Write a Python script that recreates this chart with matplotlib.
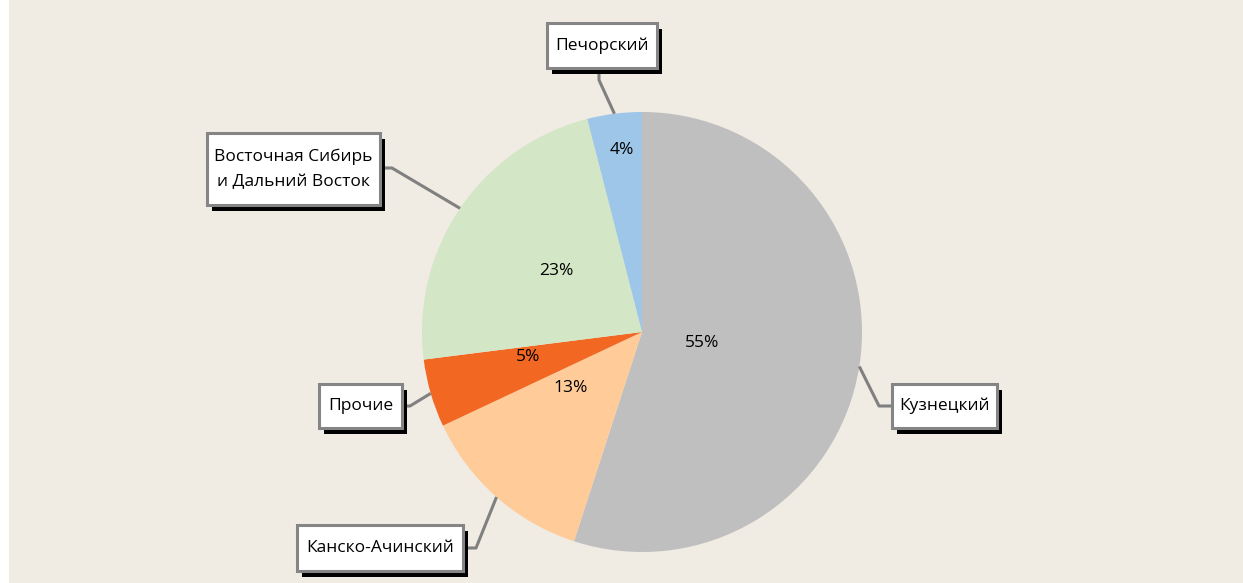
import matplotlib
matplotlib.use("Agg")
import matplotlib.pyplot as plt
from matplotlib.patches import Rectangle
import numpy as np

# ---- data ----
categories = ["Кузнецкий", "Канско-Ачинский", "Прочие",
              "Восточная Сибирь\nи Дальний Восток", "Печорский"]
shares = [55, 13, 5, 23, 4]
pct_labels = ["55%", "13%", "5%", "23%", "4%"]
colors = ["#BFBFBF", "#FFCC99", "#F26722", "#D3E6C6", "#9DC6E9"]

# ---- layout (pixel coordinates, y from top) ----
W, H = 1243, 583
CX, CY, R = 642, 332, 220
# label boxes: (left, top, width, height)
boxes = [(892, 384, 105, 44), (297, 525, 166, 46), (319, 384, 83, 44),
         (207, 133, 173, 72), (547, 23, 110, 45)]
# leader line start points (on box edge) and elbow points
line_start = [(892, 406), (463, 548), (402, 406), (380, 168), (599, 68)]
line_elbow = [(879, 406), (476, 548), (410, 406), (392, 168), (599, 80)]
pct_pos = [(702, 343), (571, 388), (528, 357), (556, 271), (622, 150)]

FONT = ["Open Sans", "DejaVu Sans"]
FS = 12.5

def Y(py):
    return H - py

fig = plt.figure(figsize=(W / 100, H / 100), dpi=100, facecolor="white")
ax = fig.add_axes([0, 0, 1, 1])
ax.add_patch(Rectangle((9, 0), W - 9, H, facecolor="#F0EBE3", edgecolor="none", zorder=0))

wedges, _ = ax.pie(shares, colors=colors, startangle=90, counterclock=False,
                   radius=R, center=(CX, Y(CY)), frame=True,
                   wedgeprops=dict(linewidth=0), labels=None)
for w in wedges:
    w.set_zorder(2)
ax.set_xlim(0, W)
ax.set_ylim(0, H)
ax.set_aspect("equal")
ax.axis("off")

for i, w in enumerate(wedges):
    mid = np.deg2rad((w.theta1 + w.theta2) / 2)
    ex, ey = CX + R * np.cos(mid), Y(CY) + R * np.sin(mid)
    sx, sy = line_start[i]
    bx, by = line_elbow[i]
    ax.plot([sx, bx, ex], [Y(sy), Y(by), ey], color="#808080", lw=2.2,
            solid_capstyle="butt", zorder=3)
    l, t, bw, bh = boxes[i]
    ax.add_patch(Rectangle((l + 5, Y(t + bh + 6)), bw, bh, facecolor="black",
                           edgecolor="none", zorder=4))
    ax.add_patch(Rectangle((l, Y(t + bh)), bw, bh, facecolor="white",
                           edgecolor="#858585", lw=2.2, zorder=5))
    ax.text(l + bw / 2, Y(t + bh / 2), categories[i], ha="center", va="center",
            fontsize=FS, family=FONT, color="black", zorder=6, linespacing=1.75)
    px, py = pct_pos[i]
    ax.text(px, Y(py), pct_labels[i], ha="center", va="center", fontsize=FS,
            family=FONT, color="black", zorder=6)

fig.savefig("out.png", dpi=100, facecolor=fig.get_facecolor())
